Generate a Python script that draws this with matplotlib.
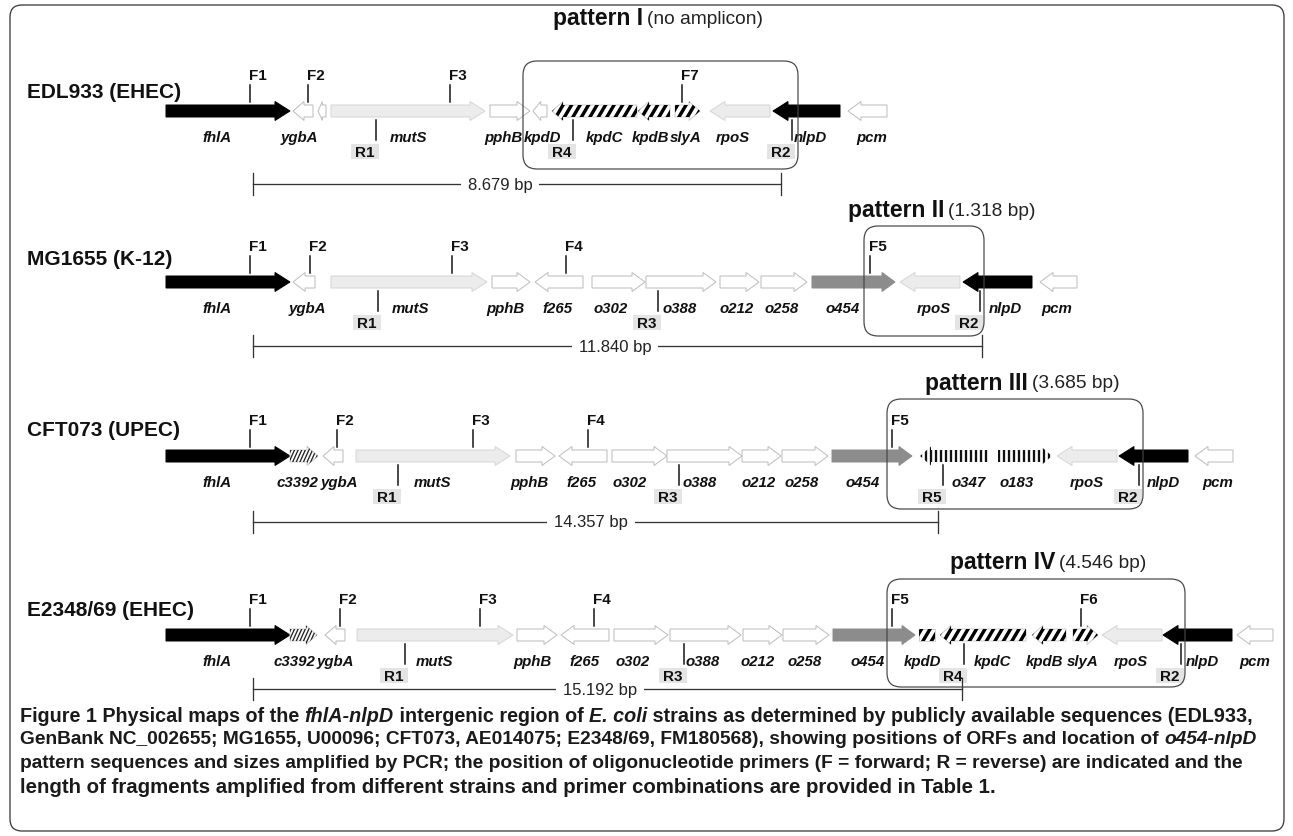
import matplotlib
matplotlib.use("Agg")
import matplotlib.pyplot as plt
from matplotlib.patches import Polygon, FancyBboxPatch, Rectangle
import numpy as np

plt.rcParams['font.family'] = ['Liberation Sans', 'DejaVu Sans']

W, H = 1293, 837

# ---------------- data ----------------
strains = ["EDL933 (EHEC)", "MG1655 (K-12)", "CFT073 (UPEC)", "E2348/69 (EHEC)"]
row_y = [112, 283, 457, 636]
strain_label_y = [92, 259, 431, 610]

# gene: (name, start, end, direction, style, label_x)
genes_edl933 = [
    ("fhlA", 166, 290, 1, "black", 217), ("ygbA", 293, 313, -1, "white", 299),
    ("", 318, 326, -1, "white", 0), ("mutS", 331, 485, 1, "light", 408),
    ("pphB", 490, 530, 1, "white", 503), ("kpdD", 533, 547, -1, "white", 543),
    ("kpdC", 552, 637, -1, "hatch", 604), ("kpdB", 638, 670, -1, "hatch", 651),
    ("slyA", 675, 700, 1, "hatch", 686), ("rpoS", 710, 770, -1, "light", 733),
    ("nlpD", 773, 840, -1, "black", 810), ("pcm", 848, 887, -1, "white", 872),
]
genes_mg1655 = [
    ("fhlA", 166, 290, 1, "black", 217), ("ygbA", 293, 315, -1, "white", 307),
    ("mutS", 331, 487, 1, "light", 410), ("pphB", 492, 530, 1, "white", 505),
    ("f265", 535, 583, -1, "white", 558), ("o302", 592, 645, 1, "white", 611),
    ("o388", 646, 716, 1, "white", 680), ("o212", 720, 759, 1, "white", 737),
    ("o258", 761, 807, 1, "white", 782), ("o454", 812, 895, 1, "dark", 843),
    ("rpoS", 900, 960, -1, "light", 934), ("nlpD", 963, 1032, -1, "black", 1005),
    ("pcm", 1040, 1077, -1, "white", 1057),
]
genes_cft073 = [
    ("fhlA", 166, 290, 1, "black", 217), ("c3392", 290, 318, 1, "fine", 297),
    ("ygbA", 323, 343, -1, "white", 339), ("mutS", 356, 510, 1, "light", 432),
    ("pphB", 516, 555, 1, "white", 529), ("f265", 559, 607, -1, "white", 582),
    ("o302", 612, 667, 1, "white", 630), ("o388", 667, 742, 1, "white", 700),
    ("o212", 742, 781, 1, "white", 759), ("o258", 782, 828, 1, "white", 802),
    ("o454", 832, 912, 1, "dark", 863), ("o347", 920, 988, -1, "vert", 969),
    ("o183", 998, 1052, 1, "vert", 1017), ("rpoS", 1057, 1117, -1, "light", 1087),
    ("nlpD", 1119, 1188, -1, "black", 1163), ("pcm", 1195, 1233, -1, "white", 1218),
]
genes_e2348 = [
    ("fhlA", 166, 290, 1, "black", 217), ("c3392", 290, 317, 1, "fine", 294),
    ("ygbA", 325, 345, -1, "white", 335), ("mutS", 357, 513, 1, "light", 435),
    ("pphB", 517, 557, 1, "white", 532), ("f265", 561, 609, -1, "white", 585),
    ("o302", 614, 668, 1, "white", 633), ("o388", 670, 741, 1, "white", 703),
    ("o212", 743, 782, 1, "white", 758), ("o258", 783, 829, 1, "white", 805),
    ("o454", 833, 915, 1, "dark", 868), ("kpdD", 919, 935, 0, "hatch", 923),
    ("kpdC", 940, 1026, -1, "hatch", 993), ("kpdB", 1032, 1066, -1, "hatch", 1045),
    ("slyA", 1073, 1098, 1, "hatch", 1083), ("rpoS", 1102, 1162, -1, "light", 1131),
    ("nlpD", 1163, 1232, -1, "black", 1202), ("pcm", 1237, 1273, -1, "white", 1255),
]
genes_rows = [genes_edl933, genes_mg1655, genes_cft073, genes_e2348]

forward_primers = [
    [("F1", 250), ("F2", 308), ("F3", 450), ("F7", 682)],
    [("F1", 250), ("F2", 310), ("F3", 452), ("F4", 566), ("F5", 870)],
    [("F1", 250), ("F2", 337), ("F3", 473), ("F4", 588), ("F5", 892)],
    [("F1", 250), ("F2", 340), ("F3", 480), ("F4", 594), ("F5", 892), ("F6", 1081)],
]
reverse_primers = [
    [("R1", 376), ("R4", 573), ("R2", 792)],
    [("R1", 378), ("R3", 658), ("R2", 980)],
    [("R1", 398), ("R3", 679), ("R5", 943), ("R2", 1139)],
    [("R1", 405), ("R3", 684), ("R4", 964), ("R2", 1181)],
]

amplicon_labels = ["8.679 bp", "11.840 bp", "14.357 bp", "15.192 bp"]
amplicon_start = [253, 253, 253, 253]
amplicon_end = [781, 982, 938, 962]
amplicon_y = [185, 347, 523, 690]
amplicon_text_x = [500, 615, 591, 600]

pattern_names = ["pattern I", "pattern II", "pattern III", "pattern IV"]
pattern_sizes = ["(no amplicon)", "(1.318 bp)", "(3.685 bp)", "(4.546 bp)"]
pattern_box = [(523, 62, 798, 170), (864, 227, 984, 337),
               (887, 400, 1143, 510), (887, 580, 1185, 688)]
pattern_title_pos = [(553, 18), (848, 210), (925, 383), (950, 562)]

caption_lines = [
    [("Figure 1 Physical maps of the ", "normal"), ("fhlA-nlpD", "italic"),
     (" intergenic region of ", "normal"), ("E. coli", "italic"),
     (" strains as determined by publicly available sequences (EDL933,", "normal")],
    [("GenBank NC_002655; MG1655, U00096; CFT073, AE014075; E2348/69, FM180568), "
      "showing positions of ORFs and location of ", "normal"), ("o454-nlpD", "italic")],
    [("pattern sequences and sizes amplified by PCR; the position of oligonucleotide "
      "primers (F = forward; R = reverse) are indicated and the", "normal")],
    [("length of fragments amplified from different strains and primer combinations "
      "are provided in Table 1.", "normal")],
]
caption_y = [716, 740, 764, 788]
caption_right = [1253, 1260, 1242, 1001]

# ---------------- drawing ----------------
PX = 0.72  # points per pixel at dpi 100
fig = plt.figure(figsize=(W / 100, H / 100), dpi=100)
ax = fig.add_axes([0, 0, 1, 1])
ax.set_xlim(0, W)
ax.set_ylim(H, 0)
ax.axis("off")
renderer = fig.canvas.get_renderer()

# outer frame
ax.add_patch(FancyBboxPatch((10, 6), 1274, 826, boxstyle="round,pad=0,rounding_size=12",
                            fc="white", ec="#3a3a3a", lw=1.3 * PX, zorder=0))

STYLE = {
    "black": dict(fc="black", ec="black"),
    "white": dict(fc="white", ec="#bdbdbd"),
    "light": dict(fc="#ececec", ec="#d6d6d6"),
    "dark": dict(fc="#8c8c8c", ec="#8c8c8c"),
    "hatch": dict(fc="white", ec="#d0d0d0"),
    "fine": dict(fc="white", ec="#d0d0d0"),
    "vert": dict(fc="white", ec="white"),
}


def arrow_points(x0, x1, d, yc, style):
    L = x1 - x0
    sh, hh = 6, 9.5
    if style in ("black", "light"):
        hl = 15
    elif style == "dark":
        hl = 13
    elif style in ("hatch", "fine", "vert"):
        hl = min(11, 0.45 * L)
    else:
        hl = min(13, 0.55 * L)
    if d == 1:
        return [(x0, yc - sh), (x1 - hl, yc - sh), (x1 - hl, yc - hh), (x1, yc),
                (x1 - hl, yc + hh), (x1 - hl, yc + sh), (x0, yc + sh)]
    if d == -1:
        return [(x1, yc - sh), (x0 + hl, yc - sh), (x0 + hl, yc - hh), (x0, yc),
                (x0 + hl, yc + hh), (x0 + hl, yc + sh), (x1, yc + sh)]
    return [(x0, yc - sh), (x1, yc - sh), (x1, yc + sh), (x0, yc + sh)]


def add_stripes(patch, x0, x1, yc, kind):
    if kind == "hatch":
        step, lw, dx = 8.5, 3.4, 13
        for xs in np.arange(x0 - 16, x1 + 12, step):
            ln, = ax.plot([xs, xs + dx], [yc + 11, yc - 11], color="black",
                          lw=lw * PX, solid_capstyle="butt", zorder=3)
            ln.set_clip_path(patch)
    elif kind == "fine":
        step, lw = 3.6, 1.3
        for xs in np.arange(x0 - 14, x1 + 12, step):
            ln, = ax.plot([xs, xs + 10], [yc + 11, yc - 11], color="#222222",
                          lw=lw * PX, zorder=3)
            ln.set_clip_path(patch)
    elif kind == "vert":
        step, lw = 5.0, 2.3
        for xs in np.arange(x0 + 1, x1, step):
            ln, = ax.plot([xs, xs], [yc + 11, yc - 11], color="#111111",
                          lw=lw * PX, solid_capstyle="butt", zorder=3)
            ln.set_clip_path(patch)


for r, genes in enumerate(genes_rows):
    yc = row_y[r]
    ax.text(27, strain_label_y[r], strains[r], fontsize=15, fontweight="bold",
            ha="left", va="center", color="#111111")
    for name, x0, x1, d, style, lx in genes:
        pts = arrow_points(x0, x1, d, yc, style)
        st = STYLE[style]
        p = Polygon(pts, closed=True, fc=st["fc"], ec=st["ec"], lw=1.0 * PX,
                    joinstyle="miter", zorder=2)
        ax.add_patch(p)
        if style in ("hatch", "fine", "vert"):
            add_stripes(p, x0, x1, yc, style)
        if name:
            ax.text(lx, yc + 26, name, fontsize=10.8, fontweight="bold", style="italic",
                    ha="center", va="center", color="#111111", zorder=5)
    for lab, x in forward_primers[r]:
        ax.plot([x, x], [yc - 26, yc - 9], color="#111111", lw=1.5 * PX, zorder=4)
        ax.text(x - 1, yc - 36, lab, fontsize=11, fontweight="bold", ha="left",
                va="center", color="#111111")
    for lab, x in reverse_primers[r]:
        ax.plot([x, x], [yc + 9, yc + 29], color="#111111", lw=1.5 * PX, zorder=4)
        ax.add_patch(Rectangle((x - 25, yc + 33), 28, 15, fc="#e4e4e4", ec="none", zorder=3))
        ax.text(x - 11, yc + 41, lab, fontsize=11, fontweight="bold", ha="center",
                va="center", color="#111111", zorder=5)
    # amplicon bracket
    by = amplicon_y[r]
    xa, xb = amplicon_start[r], amplicon_end[r]
    ax.plot([xa, xb], [by, by], color="#333333", lw=1.3 * PX, zorder=4)
    ax.plot([xa, xa], [by - 11, by + 11], color="#333333", lw=1.3 * PX, zorder=4)
    ax.plot([xb, xb], [by - 11, by + 11], color="#333333", lw=1.3 * PX, zorder=4)
    ax.text(amplicon_text_x[r], by, amplicon_labels[r], fontsize=12, ha="center",
            va="center", color="#222222", zorder=6,
            bbox=dict(fc="white", ec="none", pad=5))
    # pattern box
    bx0, by0, bx1, by1 = pattern_box[r]
    ax.add_patch(FancyBboxPatch((bx0, by0), bx1 - bx0, by1 - by0,
                                boxstyle="round,pad=0,rounding_size=14",
                                fc="none", ec="#444444", lw=1.2 * PX, zorder=6))
    tx, ty = pattern_title_pos[r]
    t1 = ax.text(tx, ty, pattern_names[r], fontsize=16.5, fontweight="bold",
                 ha="left", va="center", color="#111111")
    w1 = t1.get_window_extent(renderer).width
    ax.text(tx + w1 + 4, ty + 1, pattern_sizes[r], fontsize=13.8, ha="left",
            va="center", color="#222222")


# caption: each line sized so that it ends where the reference line ends
def draw_line(pieces, x0, y, size):
    objs = []
    x = x0
    for txt, sty in pieces:
        t = ax.text(x, y, txt, fontsize=size, fontweight="bold", style=sty,
                    ha="left", va="center", color="#1a1a1a")
        x += t.get_window_extent(renderer).width
        objs.append(t)
    return objs, x


BASE = 14.2
for line, cy, right in zip(caption_lines, caption_y, caption_right):
    objs, xend = draw_line(line, 20, cy, BASE)
    size = BASE * (right - 20) / (xend - 20)
    size = max(13.0, min(15.0, size))
    for o in objs:
        o.remove()
    draw_line(line, 20, cy, size)

fig.savefig("out.png", dpi=100)
